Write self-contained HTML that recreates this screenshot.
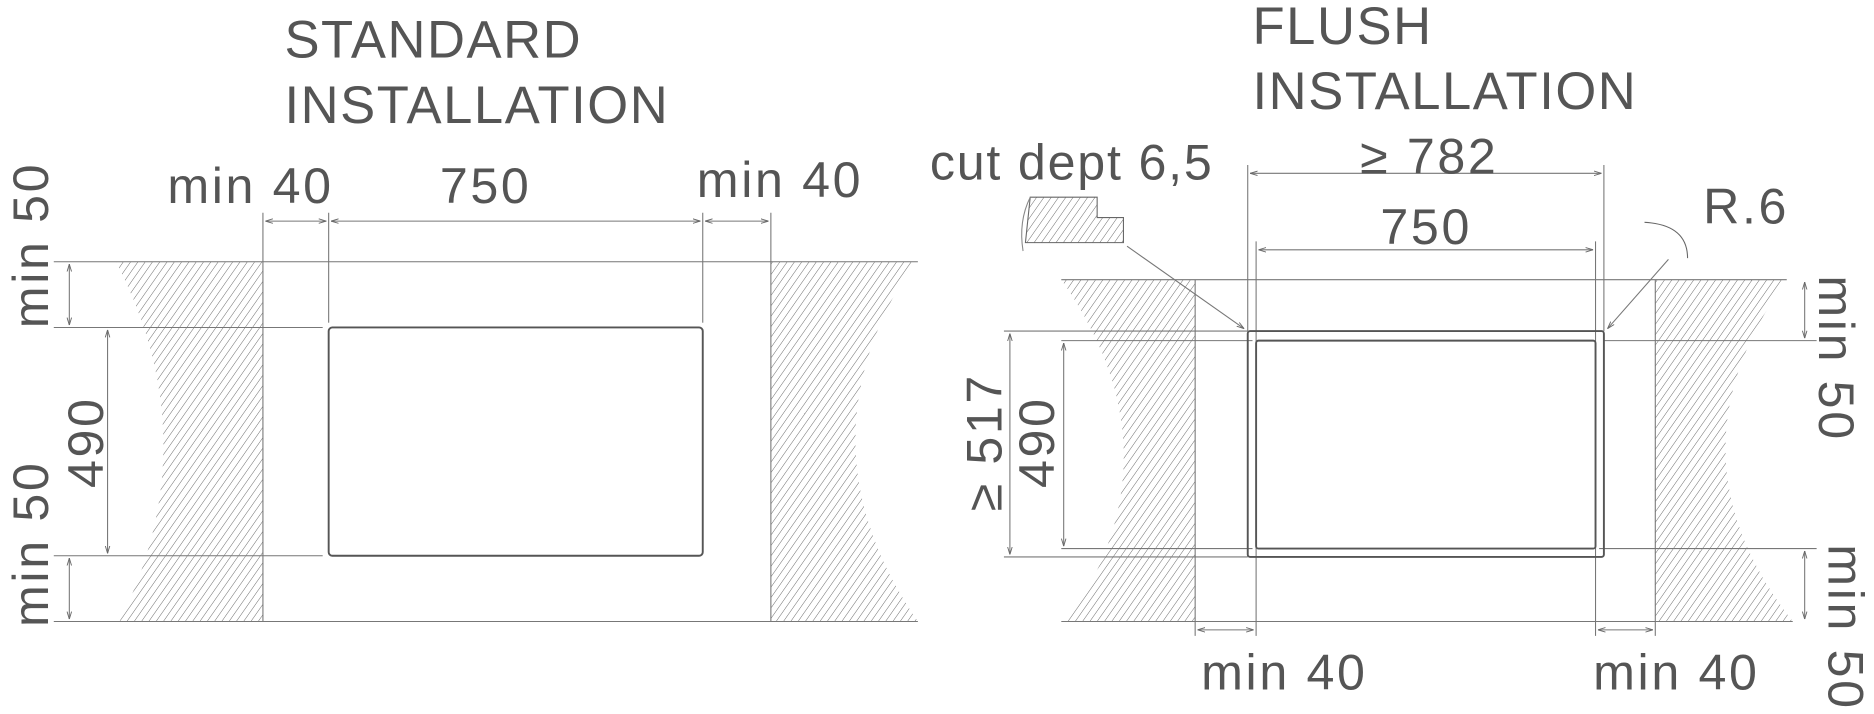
<!DOCTYPE html>
<html><head><meta charset="utf-8"><style>
html,body{margin:0;padding:0;background:#fff;}
svg{display:block;}
text{font-family:"Liberation Sans",sans-serif;fill:#555;}
</style></head><body>
<svg width="1874" height="714" viewBox="0 0 1568 597.4" xmlns="http://www.w3.org/2000/svg">
<defs>
<pattern id="h" patternUnits="userSpaceOnUse" width="5" height="5" patternTransform="rotate(35)">
<line x1="0" y1="0" x2="0" y2="5" stroke="#666" stroke-width="0.8"/>
</pattern>
<marker id="a" viewBox="0 0 10 10" refX="10" refY="5" markerWidth="7" markerHeight="7" orient="auto-start-reverse">
<path d="M0,2 L10,5 L0,8" fill="none" stroke="#666" stroke-width="1.2"/>
</marker>
</defs>
<g stroke="#777" stroke-width="0.9" fill="none">
<path d="M97,219 Q175,370 100,520 L220,520 L220,219 Z" fill="url(#h)" stroke="none"/>
<path d="M645,219 L765,219 Q665,370 768,520 L645,520 Z" fill="url(#h)" stroke="none"/>
<line x1="45" y1="219" x2="768" y2="219"/>
<line x1="45" y1="520" x2="768" y2="520"/>
<line x1="45" y1="274" x2="270" y2="274"/>
<line x1="45" y1="465" x2="270" y2="465"/>
<line x1="220" y1="178" x2="220" y2="520"/>
<line x1="275" y1="178" x2="275" y2="270"/>
<line x1="588" y1="178" x2="588" y2="270"/>
<line x1="645" y1="178" x2="645" y2="520"/>
<line x1="222" y1="185" x2="273" y2="185" marker-start="url(#a)" marker-end="url(#a)"/>
<line x1="277" y1="185" x2="586" y2="185" marker-start="url(#a)" marker-end="url(#a)"/>
<line x1="590" y1="185" x2="643" y2="185" marker-start="url(#a)" marker-end="url(#a)"/>
<line x1="58" y1="221" x2="58" y2="272" marker-start="url(#a)" marker-end="url(#a)"/>
<line x1="90" y1="276" x2="90" y2="463" marker-start="url(#a)" marker-end="url(#a)"/>
<line x1="58" y1="467" x2="58" y2="518" marker-start="url(#a)" marker-end="url(#a)"/>
<rect x="275" y="274" width="313" height="191" rx="3" stroke="#555" stroke-width="1.6"/>
<path d="M888,234 L1000,234 L1000,520 L893,520 Q990,380 888,234 Z" fill="url(#h)" stroke="none"/>
<path d="M1385,234 L1495,234 Q1390,380 1500,520 L1385,520 Z" fill="url(#h)" stroke="none"/>
<path d="M862,165 L918,165 L918,182 L940,182 L940,203 L858,203 Z" fill="url(#h)" stroke="#666"/>
<path d="M862,165 Q852,185 856,210" stroke="#888"/>
<line x1="888" y1="234" x2="1495" y2="234"/>
<line x1="888" y1="520" x2="1500" y2="520"/>
<line x1="840" y1="277" x2="1044" y2="277"/>
<line x1="840" y1="466" x2="1044" y2="466"/>
<line x1="888" y1="285" x2="1048" y2="285"/>
<line x1="888" y1="459" x2="1048" y2="459"/>
<line x1="1342" y1="285" x2="1520" y2="285"/>
<line x1="1338" y1="459" x2="1520" y2="459"/>
<line x1="1000" y1="234" x2="1000" y2="532"/>
<line x1="1051" y1="202" x2="1051" y2="532"/>
<line x1="1335" y1="202" x2="1335" y2="532"/>
<line x1="1385" y1="234" x2="1385" y2="532"/>
<line x1="1044" y1="138" x2="1044" y2="277"/>
<line x1="1342" y1="138" x2="1342" y2="277"/>
<line x1="1046" y1="145" x2="1340" y2="145" marker-start="url(#a)" marker-end="url(#a)"/>
<line x1="1053" y1="209" x2="1333" y2="209" marker-start="url(#a)" marker-end="url(#a)"/>
<line x1="1002" y1="527" x2="1049" y2="527" marker-start="url(#a)" marker-end="url(#a)"/>
<line x1="1337" y1="527" x2="1383" y2="527" marker-start="url(#a)" marker-end="url(#a)"/>
<line x1="845" y1="279" x2="845" y2="464" marker-start="url(#a)" marker-end="url(#a)"/>
<line x1="890" y1="287" x2="890" y2="457" marker-start="url(#a)" marker-end="url(#a)"/>
<line x1="1510" y1="236" x2="1510" y2="283" marker-start="url(#a)" marker-end="url(#a)"/>
<line x1="1510" y1="461" x2="1510" y2="518" marker-start="url(#a)" marker-end="url(#a)"/>
<line x1="943" y1="206" x2="1041" y2="275" marker-end="url(#a)"/>
<line x1="1396" y1="217" x2="1345" y2="275" marker-end="url(#a)"/>
<path d="M1376,186 Q1412,188 1412,216" stroke="#666"/>
<rect x="1044" y="277" width="298" height="189" rx="2" stroke="#555" stroke-width="1.6"/>
<rect x="1051" y="285" width="284" height="174" rx="2" stroke="#555" stroke-width="1.6"/>
</g>
<g font-size="44" letter-spacing="1.3">
<text x="238" y="48">STANDARD</text>
<text x="238" y="103">INSTALLATION</text>
<text x="1048" y="37">FLUSH</text>
<text x="1048" y="91">INSTALLATION</text>
</g>
<g font-size="42" letter-spacing="2.2">
<text x="140" y="170">min 40</text>
<text x="368" y="170">750</text>
<text x="583" y="165">min 40</text>
<text transform="translate(40,205) rotate(-90)" text-anchor="middle">min 50</text>
<text transform="translate(86,370) rotate(-90)" text-anchor="middle">490</text>
<text transform="translate(40,455) rotate(-90)" text-anchor="middle">min 50</text>
<text x="778" y="150" letter-spacing="1.5">cut dept 6,5</text>
<text x="1138" y="145">≥ 782</text>
<text x="1155" y="204">750</text>
<text x="1425" y="187">R.6</text>
<text transform="translate(838,370) rotate(-90)" text-anchor="middle">≥ 517</text>
<text transform="translate(882,370) rotate(-90)" text-anchor="middle">490</text>
<text transform="translate(1522,300) rotate(90)" text-anchor="middle">min 50</text>
<text transform="translate(1530,525) rotate(90)" text-anchor="middle">min 50</text>
<text x="1005" y="577">min 40</text>
<text x="1333" y="577">min 40</text>
</g>
</svg>
</body></html>
